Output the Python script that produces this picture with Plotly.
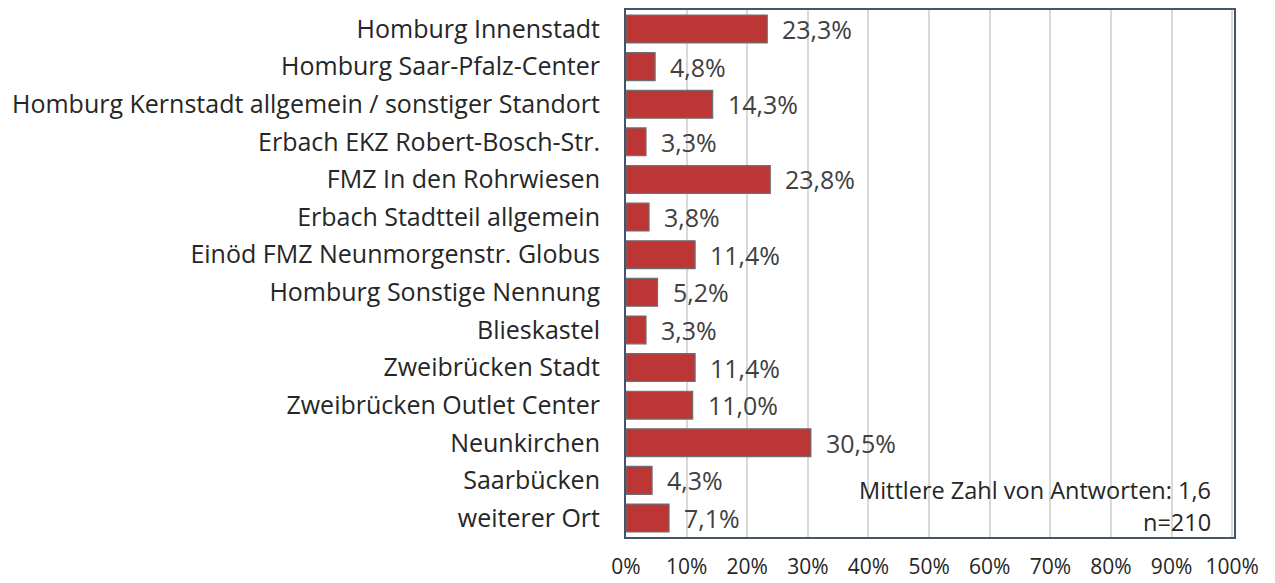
import plotly.graph_objects as go

# Standorte (top to bottom) and share of mentions in percent
standorte = [
    "Homburg Innenstadt",
    "Homburg Saar-Pfalz-Center",
    "Homburg Kernstadt allgemein / sonstiger Standort",
    "Erbach EKZ Robert-Bosch-Str.",
    "FMZ In den Rohrwiesen",
    "Erbach Stadtteil allgemein",
    "Einöd FMZ Neunmorgenstr. Globus",
    "Homburg Sonstige Nennung",
    "Blieskastel",
    "Zweibrücken Stadt",
    "Zweibrücken Outlet Center",
    "Neunkirchen",
    "Saarbücken",
    "weiterer Ort",
]
anteile = [23.3, 4.8, 14.3, 3.3, 23.8, 3.8, 11.4, 5.2, 3.3, 11.4, 11.0, 30.5, 4.3, 7.1]

x_ticks = [0, 10, 20, 30, 40, 50, 60, 70, 80, 90, 100]
x_tick_text = [f"{v}%" for v in x_ticks]

hinweis_zeilen = ["Mittlere Zahl von Antworten: 1,6", "n=210"]

FONT = "'Open Sans', sans-serif"
TEXT_COLOR = "#262626"

fig = go.Figure()
fig.add_trace(
    go.Bar(
        x=anteile,
        y=standorte,
        orientation="h",
        marker=dict(color="#BD3636", line=dict(color="#6f6f6f", width=1.2)),
        width=0.74,
        hoverinfo="skip",
    )
)

# value labels right of each bar
for name, val in zip(standorte, anteile):
    fig.add_annotation(
        x=val, y=name, xref="x", yref="y",
        text=f"{val:.1f}%".replace(".", ","),
        showarrow=False, xanchor="left", xshift=13,
        font=dict(family=FONT, size=25, color="#404040"),
    )

for i, line in enumerate(hinweis_zeilen):
    fig.add_annotation(
        x=0.965, y=[0.089, 0.028][i], xref="paper", yref="paper",
        text=line, showarrow=False, xanchor="right", yanchor="middle",
        font=dict(family=FONT, size=23.5, color=TEXT_COLOR),
    )

fig.update_layout(
    width=1275, height=583,
    margin=dict(l=626, r=41, t=10, b=46),
    paper_bgcolor="white", plot_bgcolor="white",
    showlegend=False,
    font=dict(family=FONT, color=TEXT_COLOR),
    xaxis=dict(
        range=[0, 100.3],
        tickvals=x_ticks, ticktext=x_tick_text,
        showgrid=True, gridcolor="#d9d9d9", gridwidth=2,
        zeroline=False,
        showline=True, linecolor="#44546A", linewidth=2, mirror=True,
        ticks="outside", ticklen=10, tickcolor="rgba(0,0,0,0)",
        tickfont=dict(family=FONT, size=21, color=TEXT_COLOR),
        automargin=False,
    ),
    yaxis=dict(
        autorange="reversed",
        showgrid=False, zeroline=False,
        showline=True, linecolor="#44546A", linewidth=2, mirror=True,
        ticks="outside", ticklen=19, tickcolor="rgba(0,0,0,0)",
        tickfont=dict(family=FONT, size=25, color=TEXT_COLOR),
        automargin=False,
    ),
)

fig.write_html("out.html")
